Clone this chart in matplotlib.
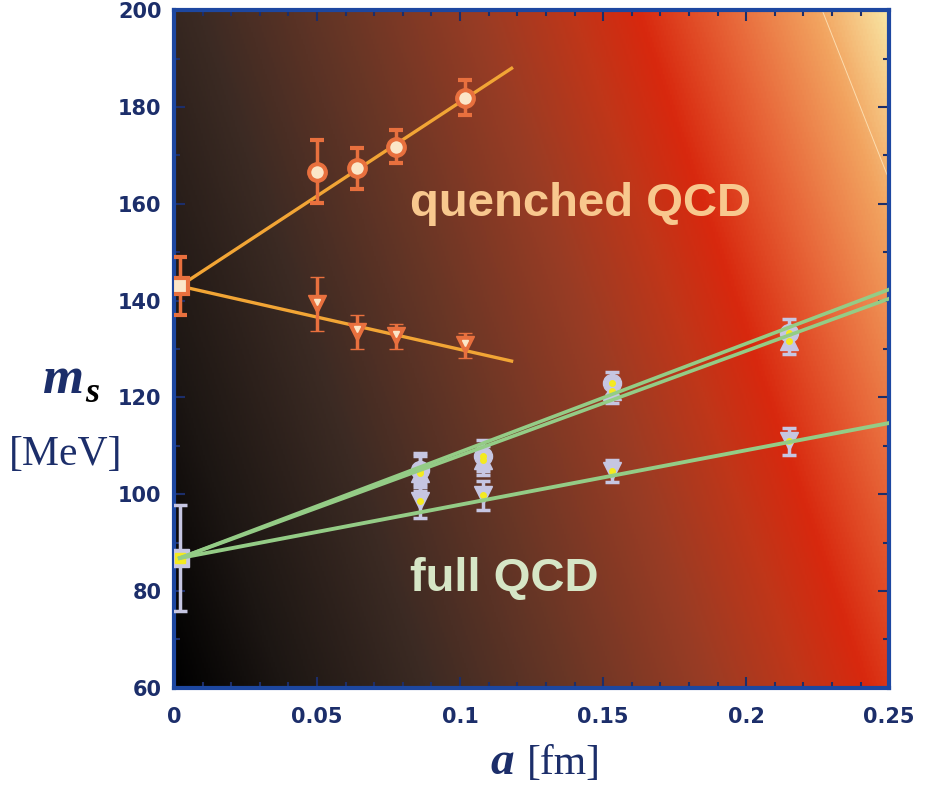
import matplotlib.pyplot as plt
import numpy as np
from matplotlib.colors import LinearSegmentedColormap

# quenched QCD
q_sq_a = [0.002]
q_sq_m = [143.0]
q_sq_err = [6.0]
q_circ_a = [0.050, 0.064, 0.0776, 0.1017]
q_circ_m = [166.6, 167.3, 171.8, 181.9]
q_circ_err = [6.5, 4.2, 3.4, 3.6]
q_tri_a = [0.050, 0.064, 0.0776, 0.1017]
q_tri_m = [139.3, 133.6, 132.6, 130.8]
q_tri_err = [5.5, 3.5, 2.5, 2.6]
q_fit_a = [0.002, 0.118]
q_fit_up = [143.0, 188.0]
q_fit_dn = [143.0, 127.5]

# full QCD
f_sq_a = [0.002]
f_sq_m = [86.8]
f_sq_err = [11.0]
f_a = [0.086, 0.108, 0.153, 0.215]
f_circ_m = [105.0, 107.9, 122.9, 133.3]
f_circ_err = [3.6, 3.2, 2.4, 2.8]
f_triup_m = [104.3, 107.0, 121.3, 131.6]
f_triup_err = [3.6, 3.0, 2.4, 2.6]
f_tridn_m = [98.6, 99.8, 104.8, 110.9]
f_tridn_err = [3.5, 3.0, 2.2, 2.8]
f_fit_a = [0.002, 0.25]
f_fit_1 = [86.8, 142.3]
f_fit_2 = [86.8, 140.4]
f_fit_3 = [86.8, 114.7]

navy = '#1c2e6a'
spine_blue = '#1d47a0'
q_line = '#f2a535'
q_mark = '#e8703e'
q_fill = '#fbe6c8'
f_line = '#94cc86'
f_mark = '#c6c6e2'
f_dot = '#f4ea20'

fig = plt.figure(figsize=(9.31, 7.86), dpi=100)
ax = fig.add_axes([0.187, 0.125, 0.768, 0.862])

# background gradient
gx, gy = np.meshgrid(np.linspace(0, 1, 400), np.linspace(0, 1, 400))
s = gx + 0.32 * gy
stops = [(0.0, '#000000'), (0.15, '#1c1613'), (0.35, '#3b2a23'),
         (0.55, '#683626'), (0.75, '#9a3c24'), (0.88, '#c03619'),
         (0.97, '#d8280e'), (1.10, '#e8683a'), (1.22, '#f2a460'),
         (1.32, '#f9e6a4')]
bg = LinearSegmentedColormap.from_list('bg', [(p / 1.32, c) for p, c in stops])
ax.imshow(s / 1.32, cmap=bg, vmin=0, vmax=1, origin='lower',
          extent=[0, 0.25, 60, 200], aspect='auto', zorder=0)
ax.plot([0.2266, 0.2493], [200, 166], color='#ffe8c0', lw=0.7, alpha=0.8, zorder=1)

# quenched
ax.plot(q_fit_a, q_fit_up, color=q_line, lw=2.4, zorder=3)
ax.plot(q_fit_a, q_fit_dn, color=q_line, lw=2.4, zorder=3)
ekw = dict(ecolor=q_mark, elinewidth=2.5, capsize=5, capthick=2.5, ls='none', zorder=4)
ax.errorbar(q_circ_a, q_circ_m, yerr=q_circ_err, fmt='o', ms=12, mfc=q_fill,
            mec=q_mark, mew=3, **ekw)
ax.errorbar(q_tri_a, q_tri_m, yerr=q_tri_err, fmt='v', ms=13, mfc=q_mark,
            mec=q_mark, mew=1, **ekw)
ax.plot(q_tri_a, [m + 0.5 for m in q_tri_m], 'v', ms=4, color=q_fill, zorder=5)
ax.errorbar(q_sq_a, q_sq_m, yerr=q_sq_err, fmt='s', ms=12, mfc=q_fill,
            mec=q_mark, mew=3, **ekw)

# full
fkw = dict(ecolor=f_mark, elinewidth=2.5, capsize=5, capthick=2.5, ls='none', zorder=4)
ax.errorbar(f_a, f_triup_m, yerr=f_triup_err, fmt='^', ms=13, color=f_mark, **fkw)
ax.errorbar(f_a, f_circ_m, yerr=f_circ_err, fmt='o', ms=13, color=f_mark, **fkw)
ax.errorbar(f_a, f_tridn_m, yerr=f_tridn_err, fmt='v', ms=13, color=f_mark, **fkw)
ax.errorbar(f_sq_a, f_sq_m, yerr=f_sq_err, fmt='s', ms=13, color=f_mark, **fkw)
for m in (f_circ_m, f_triup_m, f_tridn_m):
    ax.plot(f_a, m, 'o', ms=4, color=f_dot, zorder=5)
ax.plot(f_sq_a, f_sq_m, 's', ms=7, color=f_dot, zorder=5)
ax.plot(f_fit_a, f_fit_1, color=f_line, lw=2.6, zorder=6)
ax.plot(f_fit_a, f_fit_2, color=f_line, lw=2.6, zorder=6)
ax.plot(f_fit_a, f_fit_3, color=f_line, lw=2.8, zorder=6)

ax.text(0.0825, 160, 'quenched QCD', color='#f8c88e', fontsize=34,
        fontweight='bold', family='Liberation Sans', va='center', zorder=7)
ax.text(0.0825, 82.5, 'full QCD', color='#d6e6c6', fontsize=34,
        fontweight='bold', family='Liberation Sans', va='center', zorder=7)

ax.set_xlim(0, 0.25)
ax.set_ylim(60, 200)
ax.set_xticks([0, 0.05, 0.1, 0.15, 0.2, 0.25])
ax.set_xticklabels(['0', '0.05', '0.1', '0.15', '0.2', '0.25'])
ax.set_xticks(np.arange(0, 0.2501, 0.01), minor=True)
ax.set_yticks(range(60, 201, 20))
ax.set_yticks(range(60, 201, 10), minor=True)
ax.tick_params(which='both', direction='in', top=True, right=True,
               colors=navy, labelsize=15, width=1.5)
ax.tick_params(which='major', length=8)
ax.tick_params(which='minor', length=4)
ax.tick_params(axis='x', pad=14)
ax.tick_params(axis='y', pad=9)
for lab in ax.get_xticklabels() + ax.get_yticklabels():
    lab.set_fontweight('bold')
    lab.set_family('DejaVu Sans')
for sp in ax.spines.values():
    sp.set_color(spine_blue)
    sp.set_linewidth(3)

fig.text(0.090, 0.500, 'm', color=navy, fontsize=38, ha='right', va='baseline',
         family='Liberation Serif', fontweight='bold', fontstyle='italic')
fig.text(0.092, 0.488, 's', color='black', fontsize=26, ha='left', va='baseline',
         family='Liberation Serif', fontweight='bold', fontstyle='italic')
fig.text(0.070, 0.421, '[MeV]', color=navy, fontsize=30, ha='center', va='center',
         family='Liberation Serif')
fig.text(0.552, 0.015, 'a', color=navy, fontsize=34, ha='right', va='baseline',
         family='Liberation Serif', fontweight='bold', fontstyle='italic')
fig.text(0.566, 0.015, '[fm]', color=navy, fontsize=30, ha='left', va='baseline',
         family='Liberation Serif')

fig.savefig('out.png', dpi=100)
